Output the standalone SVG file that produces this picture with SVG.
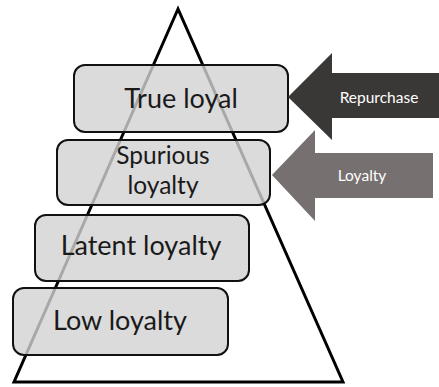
<svg xmlns="http://www.w3.org/2000/svg" width="439" height="387" viewBox="0 0 439 387">
  <style>
    .tri { fill: none; stroke: #000; stroke-width: 3; stroke-linejoin: miter; }
    .box rect { fill: #d2d2d2; fill-opacity: 0.8; stroke: #111; stroke-width: 2; }
    .box text { font-family: Lato, "Open Sans", sans-serif; font-size: 27px; fill: #1a1a1a; text-anchor: middle; }
    .box text.two { font-size: 24.5px; }
    .arrow text { font-family: Lato, "Open Sans", sans-serif; font-size: 15.5px; fill: #fff; text-anchor: middle; }
  </style>
  <rect width="439" height="387" fill="#fff"/>

  <!-- pyramid outline -->
  <g id="pyramid">
    <polygon class="tri" points="178,9 14,382 343,382"/>
  </g>

  <!-- loyalty levels, stacked from top to bottom -->
  <g id="true-loyal" class="box">
    <rect x="74" y="65" width="214" height="67" rx="11"/>
    <text x="181" y="108">True loyal</text>
  </g>
  <g id="spurious-loyalty" class="box">
    <rect x="57" y="140" width="213" height="65" rx="11"/>
    <text class="two" x="163" y="164">Spurious</text>
    <text class="two" x="163" y="194">loyalty</text>
  </g>
  <g id="latent-loyalty" class="box">
    <rect x="35" y="215" width="214" height="66" rx="11"/>
    <text x="141" y="255">Latent loyalty</text>
  </g>
  <g id="low-loyalty" class="box">
    <rect x="13" y="288" width="215" height="67" rx="11"/>
    <text x="120" y="330">Low loyalty</text>
  </g>

  <!-- block arrows pointing at the levels -->
  <g id="connectors">
    <g id="repurchase" class="arrow">
      <polygon points="288,97 332,53 332,73 439,73 439,118 332,118 332,140" fill="#3a3836"/>
      <text x="379" y="103">Repurchase</text>
    </g>
    <g id="loyalty" class="arrow">
      <polygon points="272,175 315,130 315,153 433,153 433,198 315,198 315,221" fill="#767170"/>
      <text x="362" y="181">Loyalty</text>
    </g>
  </g>
</svg>
